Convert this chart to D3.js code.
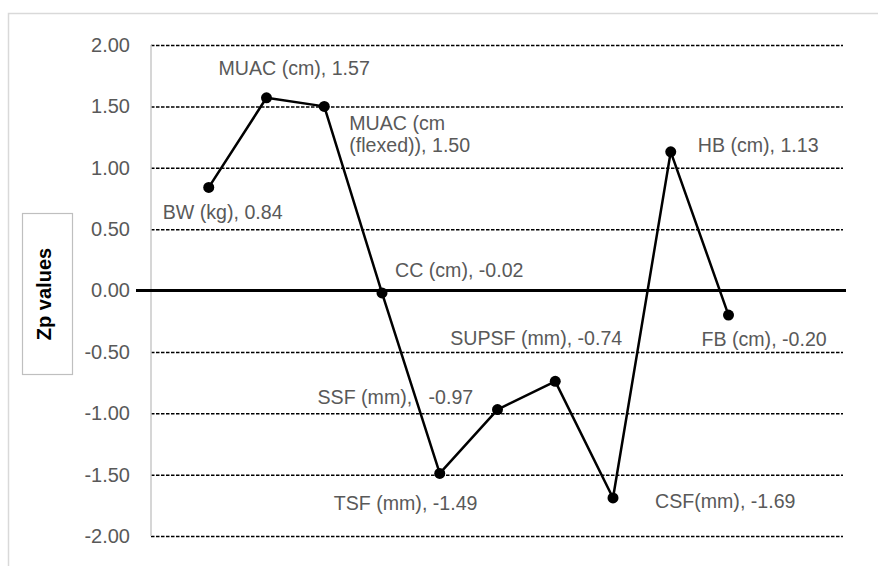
<!DOCTYPE html>
<html><head><meta charset="utf-8">
<script src="https://cdn.jsdelivr.net/npm/d3@7"></script>
<style>
body{margin:0;background:#fff}
text{font-family:"Liberation Sans",Arial,sans-serif}
</style>
</head><body>
<svg id="c" width="878" height="566"></svg>
<script>
// ---- data ----
const categories = ["BW (kg)", "MUAC (cm)", "MUAC (cm (flexed))", "CC (cm)", "TSF (mm)",
                    "SSF (mm)", "SUPSF (mm)", "CSF(mm)", "HB (cm)", "FB (cm)"];
const zpValues = [0.84, 1.57, 1.50, -0.02, -1.49, -0.97, -0.74, -1.69, 1.13, -0.20];
const yTickValues = [-2, -1.5, -1, -0.5, 0, 0.5, 1, 1.5, 2];
const yTitle = "Zp values";

// ---- layout (label placement relative to each point) ----
const labelLayout = [
  {dx: -46, dy: 25},
  {dx: -48, dy: -30},
  {dx: 25, dy: 16.5, breakAt: 8},
  {dx: 13, dy: -23},
  {dx: -106, dy: 29.5},
  {dx: -180, dy: -13, sep: "   "},
  {dx: -105, dy: -43},
  {dx: 42, dy: 3.5},
  {dx: 27, dy: -7},
  {dx: -27, dy: 23.5}
];

const fmt = d3.formatLocale({decimal: ".", thousands: ",", grouping: [3], currency: ["", ""], minus: "-"}).format(".2f");

const svg = d3.select("#c");
const x = d3.scaleLinear().domain([0, 12]).range([151, 844]);
const y = d3.scaleLinear().domain([-2, 2]).range([536, 45]);
const textGray = "#595959";

// outer chart border (cropped)
svg.append("rect").attr("x", 8.5).attr("y", 13.5).attr("width", 900).attr("height", 600)
  .attr("fill", "none").attr("stroke", "#d9d9d9").attr("stroke-width", 1.5);

// y axis with gridlines
const plotW = 692;
const yAxis = svg.append("g").attr("transform", "translate(151,0)")
  .call(d3.axisLeft(y).tickValues(yTickValues).tickSize(-plotW).tickPadding(21)
        .tickFormat(fmt));
yAxis.select(".domain").remove();
yAxis.selectAll(".tick line")
  .attr("stroke", "#000").attr("stroke-width", 1.5).attr("stroke-dasharray", "3.5,1.5")
  .attr("display", d => d === 0 ? "none" : null);
yAxis.selectAll(".tick text")
  .attr("fill", textGray).style("font-size", "20px");

// vertical axis line
svg.append("line").attr("x1", 151).attr("x2", 151).attr("y1", y(2)).attr("y2", y(-2))
  .attr("stroke", "#c8c8c8").attr("stroke-width", 1.5);

// zero line
svg.append("line").attr("x1", 136).attr("x2", 846).attr("y1", y(0)).attr("y2", y(0))
  .attr("stroke", "#000").attr("stroke-width", 3);

// y title box
svg.append("rect").attr("x", 22.5).attr("y", 213.5).attr("width", 50).attr("height", 161)
  .attr("fill", "#fff").attr("stroke", "#bfbfbf").attr("stroke-width", 1.2);
svg.append("text").attr("transform", "translate(44,294) rotate(-90)")
  .attr("text-anchor", "middle").attr("dominant-baseline", "central")
  .style("font-size", "20px").style("font-weight", "bold").attr("fill", "#000")
  .text(yTitle);

// line
const line = d3.line().x((d, i) => x(i + 1)).y(d => y(d));
svg.append("path").datum(zpValues).attr("d", line)
  .attr("fill", "none").attr("stroke", "#000").attr("stroke-width", 2.5)
  .attr("stroke-linejoin", "round");

// markers
svg.selectAll("circle.pt").data(zpValues).join("circle").attr("class", "pt")
  .attr("cx", (d, i) => x(i + 1)).attr("cy", d => y(d)).attr("r", 5.5).attr("fill", "#000");

// labels
const labels = svg.selectAll("text.lbl").data(zpValues).join("text").attr("class", "lbl")
  .attr("fill", textGray).style("font-size", "19.6px").style("white-space", "pre")
  .attr("dominant-baseline", "central");
labels.each(function(d, i) {
  const L = labelLayout[i];
  const full = categories[i] + "," + (L.sep || " ") + fmt(d);
  const t = d3.select(this);
  const px = x(i + 1) + L.dx, py = y(d) + L.dy;
  if (L.breakAt) {
    const lines = [full.slice(0, L.breakAt).trim(), full.slice(L.breakAt).trim()];
    lines.forEach((s, k) => t.append("tspan").attr("x", px).attr("y", py + k * 22).text(s));
  } else {
    t.attr("x", px).attr("y", py).text(full);
  }
});
</script>
</body></html>
